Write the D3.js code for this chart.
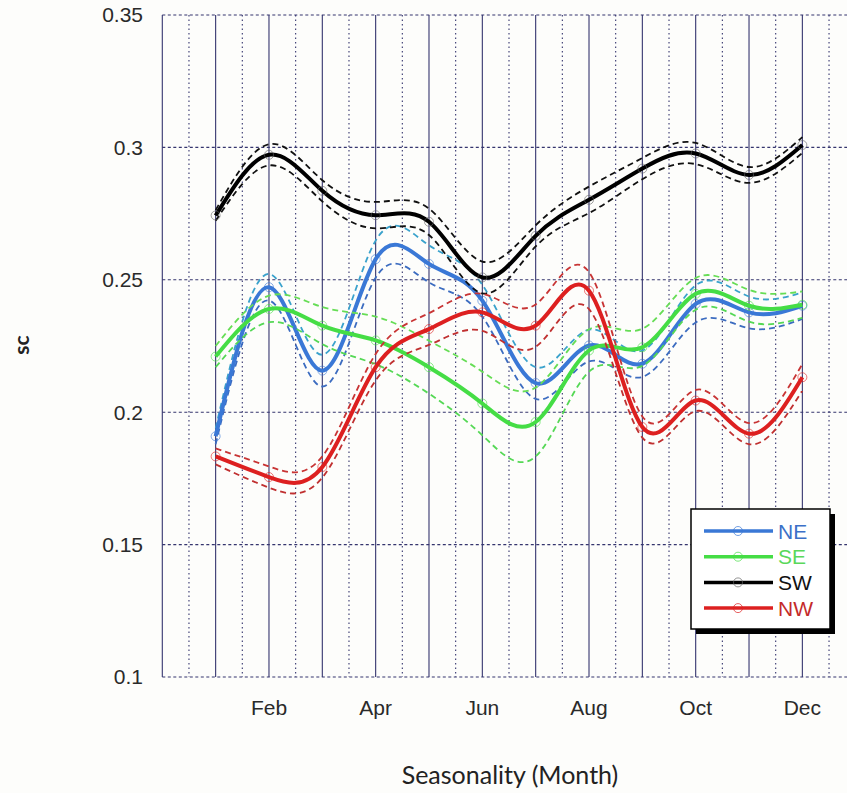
<!DOCTYPE html>
<html>
<head>
<meta charset="utf-8">
<script src="https://cdn.jsdelivr.net/npm/d3@7"></script>
<style>
  body { margin: 0; background: #fdfdfb; }
  svg { display: block; }
</style>
</head>
<body>
<svg id="chart" width="847" height="793"></svg>
<script>
// month index 1..12
var months = [1, 2, 3, 4, 5, 6, 7, 8, 9, 10, 11, 12];
var tickMonths = [2, 4, 6, 8, 10, 12];
var tickLabels = ["Feb", "Apr", "Jun", "Aug", "Oct", "Dec"];
var yTicks = [0.1, 0.15, 0.2, 0.25, 0.3, 0.35];
var yTickLabels = ["0.1", "0.15", "0.2", "0.25", "0.3", "0.35"];

var names = ["NE", "SE", "SW", "NW"];
var ne = [0.1909, 0.2472, 0.2157, 0.2578, 0.2560, 0.2421, 0.2110, 0.2252, 0.2183, 0.2409, 0.2377, 0.2402];
var se = [0.2210, 0.2390, 0.2327, 0.2271, 0.2170, 0.2033, 0.1963, 0.2233, 0.2245, 0.2447, 0.2402, 0.2406];
var sw = [0.2743, 0.2972, 0.2836, 0.2744, 0.2719, 0.2509, 0.2666, 0.2802, 0.2920, 0.2977, 0.2896, 0.3009];
var nw = [0.1833, 0.1755, 0.1793, 0.2170, 0.2314, 0.2377, 0.2327, 0.2459, 0.1944, 0.2044, 0.1919, 0.2132];

// half width of the dashed bands
var ciNe = [0.003, 0.005, 0.006, 0.007, 0.007, 0.006, 0.006, 0.006, 0.005, 0.007, 0.006, 0.005];
var ciSe = [0.004, 0.005, 0.007, 0.009, 0.010, 0.012, 0.013, 0.008, 0.007, 0.006, 0.006, 0.005];
var ciSw = [0.002, 0.004, 0.004, 0.005, 0.005, 0.006, 0.004, 0.005, 0.004, 0.004, 0.003, 0.003];
var ciNw = [0.003, 0.004, 0.004, 0.005, 0.006, 0.007, 0.008, 0.007, 0.004, 0.004, 0.004, 0.005];

var colors = ["#3a78d6", "#45dd45", "#000000", "#dd2020"];
var upColors = ["#3aa2cc", "#66dd55", "#111111", "#c83434"];
var loColors = ["#3c6cc0", "#55d855", "#111111", "#c03030"];
var textColors = ["#3c70c8", "#5ad85a", "#111111", "#c42a2a"];

var series = [ne, se, sw, nw];
var cis = [ciNe, ciSe, ciSw, ciNw];

var svg = d3.select("#chart");

var x = d3.scaleLinear().domain([0, 13]).range([162.3, 855.7]),
    y = d3.scaleLinear().domain([0.1, 0.35]).range([677, 15]);

var grid = svg.append("g");
var gridColor = "#35356e";

// solid month lines
grid.selectAll("line.solid")
    .data(d3.range(0, 14))
    .enter().append("line")
    .attr("x1", function(d) { return x(d); })
    .attr("x2", function(d) { return x(d); })
    .attr("y1", y(0.35))
    .attr("y2", y(0.1))
    .attr("stroke", gridColor)
    .attr("stroke-width", 1.1);

// dotted half-month lines
grid.selectAll("line.dot")
    .data(d3.range(0.5, 13, 1))
    .enter().append("line")
    .attr("x1", function(d) { return x(d); })
    .attr("x2", function(d) { return x(d); })
    .attr("y1", y(0.35))
    .attr("y2", y(0.1))
    .attr("stroke", gridColor)
    .attr("stroke-width", 1.1)
    .attr("stroke-dasharray", "1.5,3");

// dashed horizontal lines
grid.selectAll("line.h")
    .data(yTicks)
    .enter().append("line")
    .attr("x1", x(0))
    .attr("x2", 847)
    .attr("y1", function(d) { return y(d); })
    .attr("y2", function(d) { return y(d); })
    .attr("stroke", gridColor)
    .attr("stroke-width", 1.1)
    .attr("stroke-dasharray", "3,2.5");

// y tick labels
svg.append("g").selectAll("text")
    .data(yTicks)
    .enter().append("text")
    .attr("x", 143)
    .attr("y", function(d) { return y(d); })
    .attr("dy", "0.35em")
    .attr("text-anchor", "end")
    .style("font", "21px 'Liberation Sans', Arial, sans-serif")
    .attr("fill", "#2a2a2a")
    .text(function(d, i) { return yTickLabels[i]; });

// x tick labels
svg.append("g").selectAll("text")
    .data(tickMonths)
    .enter().append("text")
    .attr("x", function(d) { return x(d); })
    .attr("y", 715)
    .attr("text-anchor", "middle")
    .style("font", "21px 'Liberation Sans', Arial, sans-serif")
    .attr("fill", "#2a2a2a")
    .text(function(d, i) { return tickLabels[i]; });

svg.append("text")
    .attr("x", 510)
    .attr("y", 784)
    .attr("text-anchor", "middle")
    .style("font", "25px Lato, 'Open Sans', sans-serif")
    .attr("fill", "#222")
    .text("Seasonality (Month)");

svg.append("text")
    .attr("transform", "translate(29,345) rotate(-90)")
    .attr("text-anchor", "middle")
    .style("font", "bold 21px Lato, 'Open Sans', sans-serif")
    .attr("fill", "#222")
    .text("sc");

var line = d3.line()
    .x(function(d) { return x(d[0]); })
    .y(function(d) { return y(d[1]); })
    .curve(d3.curveNatural);

var plot = svg.append("g");

series.forEach(function(vals, s) {
    var g = plot.append("g");
    var up = months.map(function(m, i) { return [m, vals[i] + cis[s][i]]; }),
        lo = months.map(function(m, i) { return [m, vals[i] - cis[s][i]]; }),
        mid = months.map(function(m, i) { return [m, vals[i]]; });

    g.append("path")
        .attr("d", line(up))
        .attr("fill", "none")
        .attr("stroke", upColors[s])
        .attr("stroke-width", 1.8)
        .attr("stroke-dasharray", "6,4");
    g.append("path")
        .attr("d", line(lo))
        .attr("fill", "none")
        .attr("stroke", loColors[s])
        .attr("stroke-width", 1.8)
        .attr("stroke-dasharray", "6,4");
    g.append("path")
        .attr("d", line(mid))
        .attr("fill", "none")
        .attr("stroke", colors[s])
        .attr("stroke-width", 4);
    g.selectAll("circle")
        .data(mid)
        .enter().append("circle")
        .attr("cx", function(d) { return x(d[0]); })
        .attr("cy", function(d) { return y(d[1]); })
        .attr("r", 4.5)
        .attr("fill", "none")
        .attr("stroke", colors[s] === "#000000" ? "#666" : colors[s])
        .attr("stroke-opacity", 0.6)
        .attr("stroke-width", 1);
});

// legend
var legend = svg.append("g").attr("transform", "translate(691,509)");
legend.append("rect")
    .attr("x", 5).attr("y", 5)
    .attr("width", 139).attr("height", 120)
    .attr("fill", "#000");
legend.append("rect")
    .attr("x", 0).attr("y", 0)
    .attr("width", 139).attr("height", 120)
    .attr("fill", "#fff")
    .attr("stroke", "#000")
    .attr("stroke-width", 1.5);

names.forEach(function(n, i) {
    var ly = 22 + i * 25.7;
    legend.append("line")
        .attr("x1", 13).attr("x2", 82)
        .attr("y1", ly).attr("y2", ly)
        .attr("stroke", colors[i])
        .attr("stroke-width", 3.5);
    legend.append("circle")
        .attr("cx", 47).attr("cy", ly)
        .attr("r", 4.5)
        .attr("fill", "none")
        .attr("stroke", colors[i] === "#000000" ? "#666" : colors[i])
        .attr("stroke-opacity", 0.7)
        .attr("stroke-width", 1);
    legend.append("text")
        .attr("x", 87).attr("y", ly)
        .attr("dy", "0.36em")
        .style("font", "21px 'Liberation Sans', Arial, sans-serif")
        .attr("fill", textColors[i])
        .text(n);
});
</script>
</body>
</html>
